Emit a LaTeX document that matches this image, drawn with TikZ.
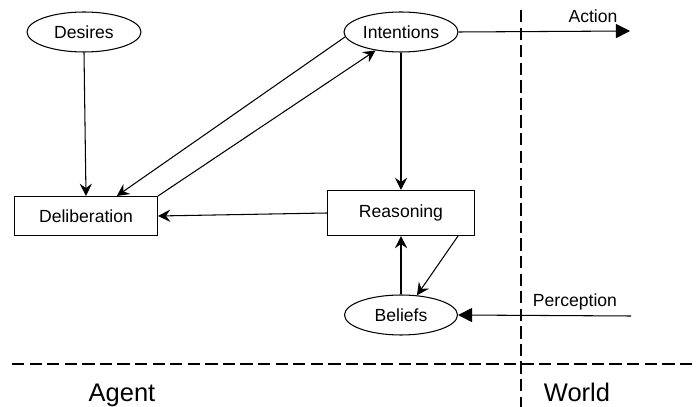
\documentclass[tikz,border=0pt]{standalone}
\usepackage{fontspec}
\setmainfont{Liberation Sans}
\usepackage{tikz}
\usetikzlibrary{arrows.meta,shapes.geometric}

\begin{document}
\begin{tikzpicture}[
    state/.style={ellipse, draw, line width=0.6pt, minimum width=2.28cm, minimum height=0.8cm, inner sep=0pt, font=\fontsize{10}{12}\selectfont},
    proc/.style={rectangle, draw, line width=0.6pt, inner sep=0pt, font=\fontsize{10}{12}\selectfont},
    conn/.style={line width=0.6pt, -{Stealth[length=7pt,width=7pt,inset=2.5pt]}},
    outconn/.style={line width=0.6pt, -{Triangle[length=8pt,width=8pt]}},
    border/.style={line width=1.6pt, dash pattern=on 7pt off 3pt},
    lbl/.style={font=\fontsize{10}{12}\selectfont},
    biglbl/.style={anchor=base, font=\fontsize{14.5}{17}\selectfont}
  ]

  \useasboundingbox (0,0) rectangle (13.94,8.14);

  % Ellipses
  \node[state] (desires) at (1.68,7.50) {Desires};
  \node[state] (intentions) at (8.02,7.50) {Intentions};
  \node[state, minimum width=2.26cm] (beliefs) at (8.02,1.84) {Beliefs};

  % Boxes
  \node[proc, minimum width=2.86cm, minimum height=0.78cm] (deliberation) at (1.72,3.82) {Deliberation};
  \node[proc, minimum width=2.94cm, minimum height=0.9cm] (reasoning) at (8.02,3.88) {Reasoning};

  % Agent / World borders
  \draw[border] (0.24,0.86) -- (13.94,0.86);
  \draw[border] (10.42,7.94) -- (10.42,0);
  \node[biglbl] (agent) at (2.44,0.11) {Agent};
  \node[biglbl] (world) at (11.54,0.11) {World};

  % Internal connectors
  \draw[conn] (desires.south) -- (deliberation.north);
  \draw[conn] (intentions.185) -- (deliberation.33);
  \draw[conn] (deliberation.north east) -- (intentions.216);
  \draw[conn] (reasoning.west) -- (deliberation.east);
  \draw[conn] (intentions.south) -- (reasoning.north);
  \draw[conn] (beliefs.north) -- (reasoning.south);
  \draw[conn] (reasoning.338) -- (beliefs.51);

  % Action and perception
  \coordinate (actend) at (12.6,7.52);
  \coordinate (percstart) at (12.62,1.82);
  \draw[outconn] (intentions.east) -- (actend);
  \draw[outconn] (percstart) -- (beliefs.east);
  \node[lbl] (action) at (11.86,7.82) {Action};
  \node[lbl] (perception) at (11.5,2.1) {Perception};

\end{tikzpicture}
\end{document}
